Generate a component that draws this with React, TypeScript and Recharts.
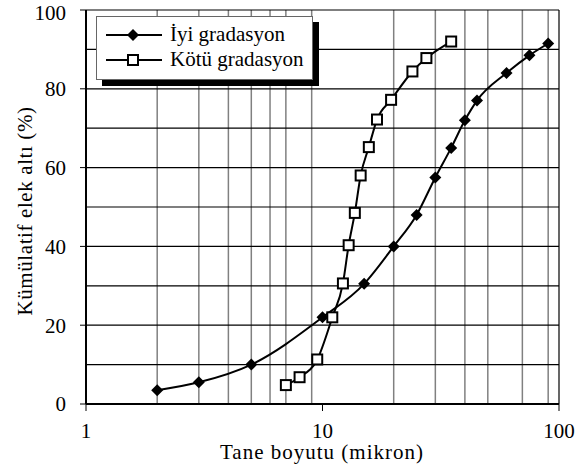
import { LineChart, Line, XAxis, YAxis, CartesianGrid } from 'recharts';

// grain size (micron) vs cumulative passing (%)
const iyiSize = [2, 3, 5, 10, 15, 20, 25, 30, 35, 40, 45, 60, 75, 90];
const iyiPass = [3.5, 5.5, 10, 22, 30.5, 40, 48, 57.5, 65, 72, 77, 84, 88.5, 91.5];

const kotuSize = [7, 8, 9.5, 11, 12.2, 12.9, 13.7, 14.5, 15.7, 17, 19.5, 24, 27.5, 35];
const kotuPass = [4.8, 6.8, 11.3, 22, 30.6, 40.3, 48.5, 58, 65.2, 72.2, 77.2, 84.4, 87.8, 92];

const xTicks = [1, 10, 100];
const yTicks = [0, 20, 40, 60, 80, 100];
const minorX = [2, 3, 4, 5, 6, 7, 8, 9, 20, 30, 40, 50, 60, 70, 80, 90];
const majorY = [10, 20, 30, 40, 50, 60, 70, 80, 90, 100];

const seriesNames = ['İyi gradasyon', 'Kötü gradasyon'];

const iyiData = iyiSize.map((x, i) => ({ x, y: iyiPass[i] }));
const kotuData = kotuSize.map((x, i) => ({ x, y: kotuPass[i] }));

const FONT = '"Liberation Serif", Tinos, "DejaVu Serif", serif';

function Diamond({ cx, cy }: any) {
  const r = 6;
  return <path d={`M${cx},${cy - r}L${cx + r},${cy}L${cx},${cy + r}L${cx - r},${cy}Z`} fill="#000" />;
}

function Square({ cx, cy }: any) {
  const s = 5;
  return <rect x={cx - s} y={cy - s} width={s * 2} height={s * 2} fill="#fff" stroke="#000" strokeWidth={2} />;
}

function LegendBox() {
  const row = (name: string, filled: boolean) => (
    <div key={name} style={{ display: 'flex', alignItems: 'center', height: 25 }}>
      <svg width={58} height={14} style={{ marginRight: 6 }}>
        <line x1={0} y1={7} x2={56} y2={7} stroke="#000" strokeWidth={2} />
        {filled ? (
          <path d="M27,1L33,7L27,13L21,7Z" fill="#000" />
        ) : (
          <rect x={22} y={2} width={10} height={10} fill="#fff" stroke="#000" strokeWidth={2} />
        )}
      </svg>
      <span>{name}</span>
    </div>
  );
  return (
    <div
      style={{
        position: 'absolute',
        left: 96,
        top: 16,
        width: 206,
        height: 52,
        padding: '5px 0 5px 9px',
        background: '#fff',
        border: '1px solid #666',
        boxShadow: '6px 6px 0 #000',
        fontSize: 21,
        lineHeight: 1,
        color: '#000',
      }}
    >
      {row(seriesNames[0], true)}
      {row(seriesNames[1], false)}
    </div>
  );
}

export default function App() {
  return (
    <div style={{ position: 'absolute', left: 0, top: 0, width: 577, height: 471, background: '#fff', fontFamily: FONT }}>
      <LineChart width={577} height={471} margin={{ top: 10, right: 18, left: 0, bottom: 0 }}>
        <CartesianGrid horizontal={false} verticalValues={minorX} stroke="#808080" strokeWidth={1.5} />
        <CartesianGrid horizontalValues={majorY} verticalValues={[100]} stroke="#000" strokeWidth={1.2} />
        <XAxis
          dataKey="x"
          type="number"
          scale="log"
          domain={[1, 100]}
          ticks={xTicks}
          allowDataOverflow
          height={67}
          tickSize={7}
          tickMargin={12}
          axisLine={{ stroke: '#000', strokeWidth: 2 }}
          tickLine={{ stroke: '#000', strokeWidth: 1 }}
          tick={{ fill: '#000', fontSize: 21, fontFamily: FONT }}
        />
        <YAxis
          dataKey="y"
          type="number"
          domain={[0, 100]}
          ticks={yTicks}
          width={86}
          tickSize={6}
          tickMargin={14}
          axisLine={{ stroke: '#000', strokeWidth: 2 }}
          tickLine={{ stroke: '#000', strokeWidth: 1 }}
          tick={{ fill: '#000', fontSize: 21, fontFamily: FONT }}
        />
        <Line
          data={iyiData}
          dataKey="y"
          name={seriesNames[0]}
          type="monotone"
          stroke="#000"
          strokeWidth={2}
          dot={(p: any) => <Diamond key={`d-${p.index}`} cx={p.cx} cy={p.cy} />}
          activeDot={false}
          isAnimationActive={false}
        />
        <Line
          data={kotuData}
          dataKey="y"
          name={seriesNames[1]}
          type="monotone"
          stroke="#000"
          strokeWidth={2}
          dot={(p: any) => <Square key={`s-${p.index}`} cx={p.cx} cy={p.cy} />}
          activeDot={false}
          isAnimationActive={false}
        />
      </LineChart>
      <LegendBox />
      <div style={{ position: 'absolute', left: 322, top: 442, transform: 'translateX(-50%)', fontSize: 21, lineHeight: 1, whiteSpace: 'nowrap', letterSpacing: 1 }}>
        Tane boyutu (mikron)
      </div>
      <div
        style={{
          position: 'absolute',
          left: 25,
          top: 211,
          transform: 'translate(-50%, -50%) rotate(-90deg)',
          fontSize: 21,
          lineHeight: 1,
          whiteSpace: 'nowrap',
          letterSpacing: 0.6,
        }}
      >
        Kümülatif elek altı (%)
      </div>
    </div>
  );
}
